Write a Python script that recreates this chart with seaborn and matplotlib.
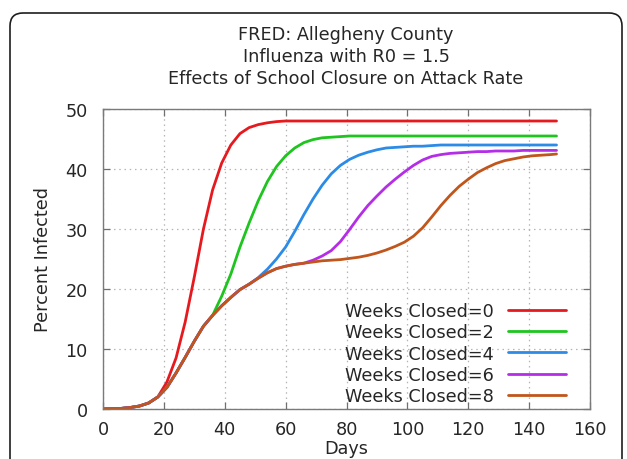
import matplotlib
matplotlib.use("Agg")
import matplotlib.pyplot as plt
import numpy as np
import pandas as pd
import seaborn as sns
from matplotlib.patches import FancyBboxPatch

# ---------------- data ----------------
days = list(range(0, 148, 3)) + [149]

closed_0 = [0, 0.05, 0.1, 0.25, 0.5, 1.0, 2.0, 4.5, 8.5, 14.5, 22.0, 30.0, 36.5, 41.0,
            44.0, 45.9, 46.9, 47.4, 47.7, 47.9, 48.0] + [48.0] * 30
closed_2 = [0, 0.05, 0.1, 0.25, 0.5, 1.0, 2.0, 3.6, 6.0, 8.6, 11.3, 13.8, 15.6,
            18.8, 22.5, 27.0, 31.0, 34.7, 37.9, 40.4, 42.2, 43.5, 44.4, 44.9, 45.2, 45.3, 45.4] + [45.5] * 24
closed_4 = [0, 0.05, 0.1, 0.25, 0.5, 1.0, 2.0, 3.6, 6.0, 8.6, 11.3, 13.8, 15.6, 17.2, 18.6, 19.9, 20.8,
            21.9, 23.3, 25.0, 27.0, 29.6, 32.4, 35.0, 37.3, 39.2, 40.6, 41.6, 42.3, 42.8, 43.2,
            43.5, 43.6, 43.7, 43.8, 43.8, 43.9] + [44.0] * 14
closed_6 = [0, 0.05, 0.1, 0.25, 0.5, 1.0, 2.0, 3.6, 6.0, 8.6, 11.3, 13.8, 15.6, 17.2, 18.6, 19.9, 20.8,
            21.8, 22.7, 23.4, 23.8, 24.1, 24.3,
            24.8, 25.5, 26.4, 27.9, 29.9, 32.0, 33.9, 35.5, 37.0, 38.3, 39.5, 40.6, 41.5, 42.1,
            42.4, 42.6, 42.7, 42.8, 42.9, 42.9, 43.0, 43.0, 43.0, 43.1, 43.1, 43.1, 43.1, 43.1]
closed_8 = [0, 0.05, 0.1, 0.25, 0.5, 1.0, 2.0, 3.6, 6.0, 8.6, 11.3, 13.8, 15.6, 17.2, 18.6, 19.9, 20.8,
            21.8, 22.7, 23.4, 23.8, 24.1, 24.3, 24.5, 24.7, 24.8, 24.9, 25.1, 25.3, 25.6, 26.0,
            26.5, 27.1, 27.8, 28.8, 30.2, 32.0, 33.9, 35.6, 37.1, 38.3, 39.4, 40.2, 40.9, 41.4,
            41.7, 42.0, 42.2, 42.3, 42.4, 42.5]

labels = ["Weeks Closed=0", "Weeks Closed=2", "Weeks Closed=4",
          "Weeks Closed=6", "Weeks Closed=8"]
colors = ["#e6191e", "#1fc41f", "#2b8be6", "#b42ee8", "#c1561c"]
title_lines = ["FRED: Allegheny County", "Influenza with R0 = 1.5",
               "Effects of School Closure on Attack Rate"]
x_ticks = [0, 20, 40, 60, 80, 100, 120, 140, 160]
y_ticks = [0, 10, 20, 30, 40, 50]

series = [closed_0, closed_2, closed_4, closed_6, closed_8]
df = pd.concat([pd.DataFrame({"Days": days, "Percent Infected": s, "series": lab})
                for s, lab in zip(series, labels)], ignore_index=True)

# ---------------- plot ----------------
sns.set_style("ticks")
plt.rcParams["font.family"] = ["DejaVu Sans"]
FS = 12.7
TXT = "#262626"

fig = plt.figure(figsize=(6.27, 4.60), dpi=100)
ax = fig.add_axes([103 / 627, 1 - 410 / 460, (590 - 103) / 627, 300 / 460])

sns.lineplot(data=df, x="Days", y="Percent Infected", hue="series", hue_order=labels,
             palette=colors, linewidth=2.0, sort=False, legend=False, ax=ax)

ax.set_xlim(0, 160)
ax.set_ylim(0, 50)
ax.set_xticks(x_ticks)
ax.set_yticks(y_ticks)
ax.tick_params(axis="both", direction="in", length=5, width=0.9, color="#707070",
               top=True, right=True, labelsize=FS, labelcolor=TXT)
ax.tick_params(axis="y", pad=11)
ax.tick_params(axis="x", pad=8)
for sp in ax.spines.values():
    sp.set_color("#7a7a7a")
    sp.set_linewidth(1.0)
ax.grid(True, linestyle=(0, (1.2, 3.0)), color="#b5b5b5", linewidth=0.9)
ax.set_xlabel("Days", fontsize=FS, color=TXT, labelpad=1)
ax.set_ylabel("Percent Infected", fontsize=FS, color=TXT, labelpad=10)

handles = ax.get_lines()[:5]
leg = ax.legend(handles, labels, loc="lower right", markerfirst=False, frameon=False,
                fontsize=FS, handlelength=3.3, handletextpad=0.8, labelspacing=0.18,
                borderpad=0, borderaxespad=0,
                bbox_to_anchor=(566 / 627, 1 - 406 / 460), bbox_transform=fig.transFigure)
for t in leg.get_texts():
    t.set_color(TXT)

fig.text(346 / 627, 1 - 57 / 460, "\n".join(title_lines), ha="center", va="center",
         multialignment="center", fontsize=FS, color=TXT, linespacing=1.25)

frame = FancyBboxPatch((10, -30), 612, 30 + 446, boxstyle="round,pad=0,rounding_size=13",
                       transform=None, fill=False, edgecolor="#1e1e1e", linewidth=1.2)
fig.patches.append(frame)

fig.savefig("out.png", dpi=100)
